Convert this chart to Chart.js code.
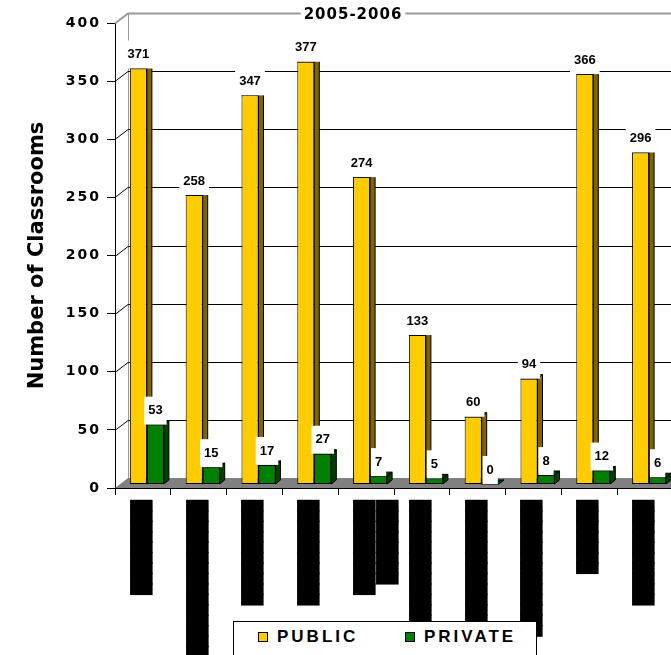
<!DOCTYPE html>
<html>
<head>
<meta charset="utf-8">
<script src="https://cdn.jsdelivr.net/npm/chart.js@4.4.1/dist/chart.umd.min.js"></script>
<style>
  html, body { margin: 0; padding: 0; background: #fff; overflow: hidden; }
  #wrap { position: relative; width: 680px; height: 655px; }
  #legend {
    position: absolute; left: 233px; top: 621px; width: 302px; height: 40px;
    border: 1px solid #000; background: #fff; color: #000;
    font: bold 17px "Liberation Sans", Arial, sans-serif; letter-spacing: 3px;
  }
  #legend .item { position: absolute; top: 5px; display: flex; align-items: center; line-height: 20px; }
  #legend .swatch { width: 8px; height: 8px; border: 1px solid #000; margin-right: 9px; }
</style>
</head>
<body>
<div id="wrap">
  <canvas id="chart" width="680" height="655"></canvas>
  <div id="legend"></div>
</div>
<script>
// category names are blacked out in the source, kept as block glyphs
const categories = [
  '█████████',
  '███████████████',
  '██████████',
  '██████████',
  ['█████████', '████████'],
  '█████████████',
  '█████████████',
  '█████████████',
  '███████',
  '██████████'
];
const publicValues = [371, 258, 347, 377, 274, 133, 60, 94, 366, 296];
const privateValues = [53, 15, 17, 27, 7, 5, 0, 8, 12, 6];

const seriesNames = ['PUBLIC', 'PRIVATE'];
const seriesColors = ['#FFCC00', '#008000'];
const sideColors = ['#7F6400', '#004000'];

const yMin = 0, yMax = 400, yStep = 50;
const chartTitle = '2005-2006';
const yTitle = 'Number of Classrooms';

// fake 3d depth
const depthX = 13, depthY = 10;
const sideW = 5, sideH = 4;
const barShift = 4;

function drawSides(ctx, bars, color) {
  ctx.save();
  ctx.fillStyle = color;
  ctx.strokeStyle = '#000';
  ctx.lineWidth = 1;
  bars.forEach(bar => {
    const l = bar.x - bar.width / 2, r = bar.x + bar.width / 2;
    ctx.beginPath();
    ctx.moveTo(r, bar.base);
    ctx.lineTo(r, bar.y);
    ctx.lineTo(r + sideW, bar.y - sideH);
    ctx.lineTo(r + sideW, bar.base - sideH);
    ctx.closePath();
    ctx.fill();
    ctx.stroke();
    ctx.beginPath();
    ctx.moveTo(l, bar.y);
    ctx.lineTo(l + sideW, bar.y - sideH);
    ctx.lineTo(r + sideW, bar.y - sideH);
    ctx.lineTo(r, bar.y);
    ctx.closePath();
    ctx.fill();
    ctx.stroke();
  });
  ctx.restore();
}

const look3d = {
  id: 'look3d',
  beforeDraw(chart) {
    // y tick labels are drawn wide in the original
    chart.ctx.letterSpacing = '2px';
  },
  beforeDatasetsDraw(chart) {
    const { ctx, chartArea: a } = chart;
    const y = chart.scales.y;
    ctx.letterSpacing = '0px';
    const wallLeft = a.left + depthX;
    const floorBack = a.bottom - depthY;

    ctx.save();
    ctx.fillStyle = '#808080';
    ctx.beginPath();
    ctx.moveTo(a.left, a.bottom);
    ctx.lineTo(wallLeft, floorBack);
    ctx.lineTo(chart.width, floorBack);
    ctx.lineTo(chart.width, a.bottom);
    ctx.closePath();
    ctx.fill();

    ctx.strokeStyle = '#999';
    ctx.lineWidth = 1;
    ctx.beginPath();
    ctx.moveTo(wallLeft + 0.5, a.top - depthY);
    ctx.lineTo(wallLeft + 0.5, floorBack);
    ctx.stroke();

    y.ticks.forEach(t => {
      if (t.value === yMin) return;
      const py = Math.round(y.getPixelForValue(t.value));
      const top = t.value === yMax;
      ctx.strokeStyle = top ? '#999' : '#000';
      ctx.lineWidth = top ? 2 : 1;
      ctx.beginPath();
      ctx.moveTo(a.left, py + 0.5);
      ctx.lineTo(wallLeft, py - depthY + 0.5);
      ctx.lineTo(chart.width, py - depthY + 0.5);
      ctx.stroke();
    });
    ctx.restore();

    ctx.save();
    ctx.translate(barShift, 0);
  },
  afterDatasetsDraw(chart) {
    const ctx = chart.ctx;
    const pub = chart.getDatasetMeta(0).data;
    const priv = chart.getDatasetMeta(1).data;
    drawSides(ctx, pub, sideColors[0]);
    // private bars sit in front of the public side faces
    priv.forEach(el => el.draw(ctx));
    drawSides(ctx, priv, sideColors[1]);
    ctx.restore();
    // block glyphs overlap a little so they read as solid bars
    ctx.letterSpacing = '-1px';
  },
  afterDraw(chart) {
    const ctx = chart.ctx;
    const a = chart.chartArea;
    ctx.save();
    ctx.letterSpacing = '0px';
    ctx.font = 'bold 13px "Liberation Sans", Arial, sans-serif';
    ctx.textAlign = 'center';
    ctx.textBaseline = 'middle';
    chart.data.datasets.forEach((ds, i) => {
      chart.getDatasetMeta(i).data.forEach((bar, j) => {
        const txt = String(ds.data[j]);
        const w = ctx.measureText(txt).width + 8;
        const cx = bar.x + barShift;
        ctx.fillStyle = '#fff';
        ctx.fillRect(cx - w / 2, bar.y - 28, w, 28);
        ctx.fillStyle = '#000';
        ctx.fillText(txt, cx, bar.y - 14);
      });
    });

    // title sits on the back wall top edge
    ctx.letterSpacing = '1px';
    ctx.font = 'bold 15px "DejaVu Sans", sans-serif';
    const tw = ctx.measureText(chartTitle).width;
    ctx.fillStyle = '#fff';
    ctx.fillRect(353 - tw / 2 - 3, 6, tw + 6, 16);
    ctx.fillStyle = '#000';
    ctx.fillText(chartTitle, 353, 15);

    // value axis title
    ctx.letterSpacing = '0px';
    ctx.font = 'bold 21px "DejaVu Sans", sans-serif';
    ctx.translate(38, (a.top + a.bottom) / 2);
    ctx.rotate(-Math.PI / 2);
    ctx.fillText(yTitle, 0, 0);
    ctx.restore();
    ctx.letterSpacing = '0px';
  }
};

new Chart(document.getElementById('chart'), {
  type: 'bar',
  data: {
    labels: categories,
    datasets: [
      {
        label: seriesNames[0],
        data: publicValues,
        backgroundColor: seriesColors[0],
        borderColor: '#000',
        borderWidth: 1,
        borderSkipped: false,
        yAxisID: 'y2'
      },
      {
        label: seriesNames[1],
        data: privateValues,
        backgroundColor: seriesColors[1],
        borderColor: '#000',
        borderWidth: 1,
        borderSkipped: false,
        yAxisID: 'y2'
      }
    ]
  },
  options: {
    responsive: false,
    animation: false,
    layout: { padding: { top: 23, right: 7, bottom: 0, left: 0 } },
    datasets: { bar: { categoryPercentage: 0.61, barPercentage: 1 } },
    plugins: {
      legend: { display: false },
      title: { display: false },
      tooltip: { enabled: false }
    },
    scales: {
      x: {
        grid: { z: 1, drawOnChartArea: false, drawTicks: true, tickLength: 7, color: '#000' },
        border: { z: 1, display: true, color: '#000' },
        ticks: {
          z: 1,
          color: '#000',
          font: { family: 'DejaVu Sans Mono', size: 19 },
          padding: 6,
          minRotation: 90,
          maxRotation: 90,
          autoSkip: false
        },
        afterFit(s) { s.height = 167; s.paddingLeft = 0; s.paddingRight = 0; }
      },
      y: {
        min: yMin,
        max: yMax,
        grid: { drawOnChartArea: false, drawTicks: true, tickLength: 8, color: '#000' },
        border: { display: true, color: '#000' },
        ticks: {
          stepSize: yStep,
          color: '#000',
          padding: 6,
          font: { family: 'DejaVu Sans', weight: 'bold', size: 14 }
        },
        afterFit(s) { s.width = 115; s.paddingTop = 0; s.paddingBottom = 0; }
      },
      // bars stand a little behind the front axis, as in the 3d original
      y2: { display: false, min: -3.6, max: 411.6 }
    }
  },
  plugins: [look3d]
});

const legend = document.getElementById('legend');
const legendLeft = [24, 171];
seriesNames.forEach((name, i) => {
  const item = document.createElement('div');
  item.className = 'item';
  item.style.left = legendLeft[i] + 'px';
  const sw = document.createElement('span');
  sw.className = 'swatch';
  sw.style.background = seriesColors[i];
  item.appendChild(sw);
  item.appendChild(document.createTextNode(name));
  legend.appendChild(item);
});
</script>
</body>
</html>
